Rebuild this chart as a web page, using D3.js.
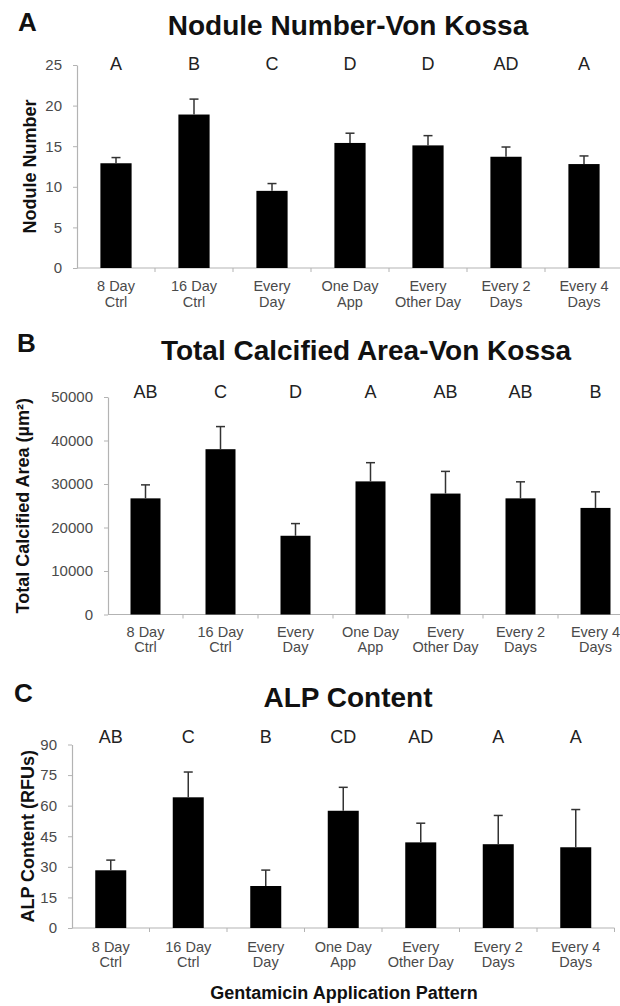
<!DOCTYPE html>
<html>
<head>
<meta charset="utf-8">
<script src="https://cdn.jsdelivr.net/npm/d3@7"></script>
<style>
  html, body { margin: 0; padding: 0; background: #fff; }
  svg { display: block; font-family: "Liberation Sans", Arial, sans-serif; }
</style>
</head>
<body>
<svg id="chart" width="620" height="1006"></svg>
<script>
// ---------- data ----------
const categories = ["8 Day Ctrl", "16 Day Ctrl", "Every Day", "One Day App", "Every Other Day", "Every 2 Days", "Every 4 Days"];
const categoryLine1 = ["8 Day", "16 Day", "Every", "One Day", "Every", "Every 2", "Every 4"];
const categoryLine2 = ["Ctrl", "Ctrl", "Day", "App", "Other Day", "Days", "Days"];

const noduleMean = [12.9, 18.9, 9.5, 15.4, 15.1, 13.7, 12.8];
const noduleErr  = [0.7, 1.9, 0.9, 1.2, 1.2, 1.2, 1.0];
const noduleLetters = ["A", "B", "C", "D", "D", "AD", "A"];
const noduleTicks = [0, 5, 10, 15, 20, 25];

const areaMean = [26700, 38000, 18100, 30600, 27800, 26700, 24500];
const areaErr  = [3100, 5200, 2800, 4300, 5100, 3800, 3700];
const areaLetters = ["AB", "C", "D", "A", "AB", "AB", "B"];
const areaTicks = [0, 10000, 20000, 30000, 40000, 50000];

const alpMean = [28.3, 64.1, 20.6, 57.5, 42.0, 41.1, 39.6];
const alpErr  = [5.0, 12.4, 7.8, 11.5, 9.4, 14.1, 18.5];
const alpLetters = ["AB", "C", "B", "CD", "AD", "A", "A"];
const alpTicks = [0, 15, 30, 45, 60, 75, 90];

const panelTitles = ["Nodule Number-Von Kossa", "Total Calcified Area-Von Kossa", "ALP Content"];
const panelTags = ["A", "B", "C"];
const yTitles = ["Nodule Number", "Total Calcified Area (\u00b5m\u00b2)", "ALP Content (RFUs)"];
const xTitle = "Gentamicin Application Pattern";

// ---------- layout ----------
const svg = d3.select("#chart");
const panels = [
  { mean: noduleMean, err: noduleErr, letters: noduleLetters, ticks: noduleTicks,
    x0: 77, x1: 623, y0: 268, y1: 65, tagX: 18, tagY: 31, titleX: 348, titleY: 35,
    letterY: 70, yTitleX: 36, lab1: 23, lab2: 39 },
  { mean: areaMean, err: areaErr, letters: areaLetters, ticks: areaTicks,
    x0: 108, x1: 633, y0: 614.5, y1: 397, tagX: 17, tagY: 352, titleX: 366, titleY: 360,
    letterY: 398, yTitleX: 29, lab1: 22, lab2: 37 },
  { mean: alpMean, err: alpErr, letters: alpLetters, ticks: alpTicks,
    x0: 72, x1: 614.5, y0: 928, y1: 744.5, tagX: 14, tagY: 702, titleX: 348, titleY: 707,
    letterY: 743, yTitleX: 34, lab1: 23.5, lab2: 39 }
];

const axisColor = "#b3b3b3";
const tickTextColor = "#4a4a4a";

panels.forEach((p, pi) => {
  const g = svg.append("g");
  const x = d3.scaleBand().domain(categories).range([p.x0, p.x1]).paddingInner(0).paddingOuter(0);
  const y = d3.scaleLinear().domain([0, d3.max(p.ticks)]).range([p.y0, p.y1]);
  const bw = x.bandwidth() * 0.4;

  // panel tag
  g.append("text").attr("x", p.tagX).attr("y", p.tagY)
    .attr("font-size", 26).attr("font-weight", "bold").attr("fill", "#111")
    .text(panelTags[pi]);

  // title
  g.append("text").attr("x", p.titleX).attr("y", p.titleY)
    .attr("text-anchor", "middle").attr("font-size", 28).attr("font-weight", "bold").attr("fill", "#111")
    .text(panelTitles[pi]);

  // y axis
  const yAxis = d3.axisLeft(y).tickValues(p.ticks).tickSize(4).tickSizeOuter(0).tickPadding(11)
    .tickFormat(d3.format("d"));
  const ya = g.append("g").attr("transform", `translate(${p.x0},0)`).call(yAxis);
  ya.select(".domain").attr("stroke", axisColor).attr("stroke-width", 1.2);
  ya.selectAll(".tick line").attr("stroke", axisColor);
  ya.selectAll(".tick text").attr("fill", tickTextColor).attr("font-size", 15)
    .attr("font-family", "Liberation Sans, Arial, sans-serif");

  // x axis line
  g.append("line").attr("x1", p.x0).attr("x2", p.x1).attr("y1", p.y0).attr("y2", p.y0)
    .attr("stroke", axisColor).attr("stroke-width", 1.2);
  // x ticks at band boundaries
  g.selectAll(".xtick").data(categories).enter().append("line")
    .attr("x1", d => x(d) + x.step()).attr("x2", d => x(d) + x.step())
    .attr("y1", p.y0).attr("y2", p.y0 + 4)
    .attr("stroke", axisColor).attr("stroke-width", 1);

  // category labels
  const lab = g.selectAll(".cat").data(categories).enter().append("text")
    .attr("text-anchor", "middle").attr("font-size", 14.5).attr("fill", tickTextColor);
  lab.append("tspan").attr("x", d => x(d) + x.step() / 2).attr("y", p.y0 + p.lab1)
    .text((d, i) => categoryLine1[i]);
  lab.append("tspan").attr("x", d => x(d) + x.step() / 2).attr("y", p.y0 + p.lab2)
    .text((d, i) => categoryLine2[i]);

  // bars
  g.selectAll(".bar").data(categories).enter().append("rect")
    .attr("x", d => x(d) + (x.step() - bw) / 2)
    .attr("width", bw)
    .attr("y", (d, i) => y(p.mean[i]))
    .attr("height", (d, i) => p.y0 - y(p.mean[i]))
    .attr("fill", "#000");

  // error bars (upper only)
  const eb = g.selectAll(".err").data(categories).enter().append("g");
  eb.append("line")
    .attr("x1", d => x(d) + x.step() / 2).attr("x2", d => x(d) + x.step() / 2)
    .attr("y1", (d, i) => y(p.mean[i])).attr("y2", (d, i) => y(p.mean[i] + p.err[i]))
    .attr("stroke", "#333").attr("stroke-width", 1.5);
  eb.append("line")
    .attr("x1", d => x(d) + x.step() / 2 - 4.5).attr("x2", d => x(d) + x.step() / 2 + 4.5)
    .attr("y1", (d, i) => y(p.mean[i] + p.err[i])).attr("y2", (d, i) => y(p.mean[i] + p.err[i]))
    .attr("stroke", "#333").attr("stroke-width", 1.5);

  // significance letters
  g.selectAll(".sig").data(categories).enter().append("text")
    .attr("x", d => x(d) + x.step() / 2).attr("y", p.letterY)
    .attr("text-anchor", "middle").attr("font-size", 18).attr("fill", "#222")
    .text((d, i) => p.letters[i]);

  // y title
  const yc = (p.y0 + p.y1) / 2;
  g.append("text")
    .attr("transform", `translate(${p.yTitleX},${yc}) rotate(-90)`)
    .attr("text-anchor", "middle").attr("font-size", 18).attr("font-weight", "bold").attr("fill", "#111")
    .text(yTitles[pi]);
});

// x title
svg.append("text").attr("x", 344).attr("y", 999)
  .attr("text-anchor", "middle").attr("font-size", 18).attr("font-weight", "bold").attr("fill", "#111")
  .text(xTitle);
</script>
</body>
</html>
